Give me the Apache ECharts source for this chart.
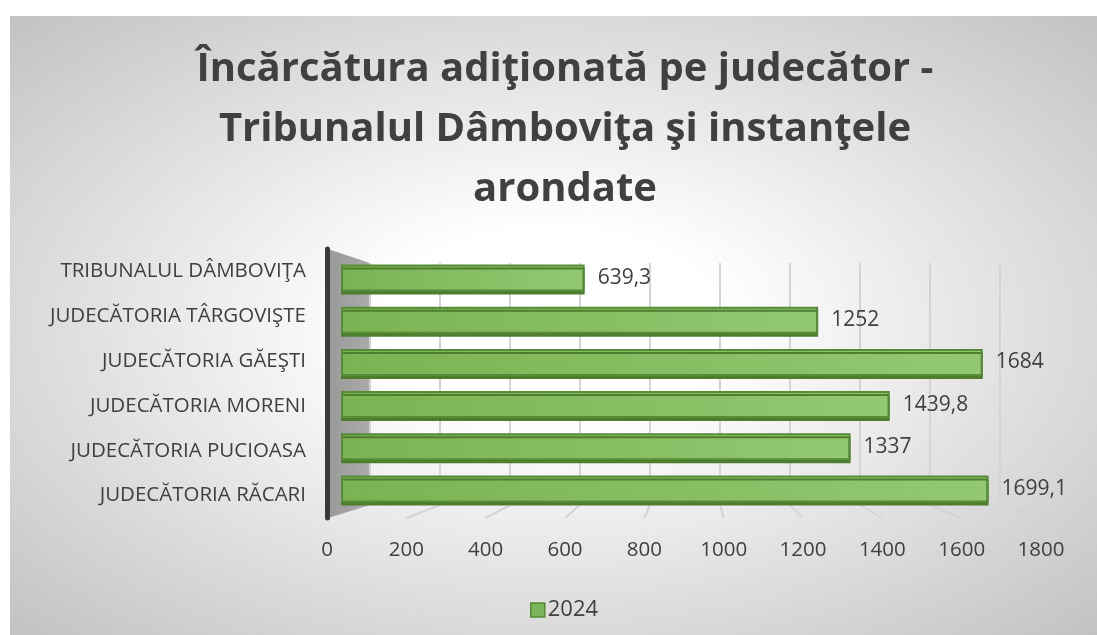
<!DOCTYPE html>
<html>
<head>
<meta charset="utf-8">
<script src="https://cdn.jsdelivr.net/npm/echarts@6/dist/echarts.min.js"></script>
<style>
  html, body { margin: 0; padding: 0; background: #fff; }
  .chart-bg {
    position: absolute; left: 10px; top: 16px; width: 1087px; height: 619px;
    background: radial-gradient(ellipse farthest-corner at 50% 50%, #ffffff 0%, #ffffff 22%, #c2c2c2 100%);
  }
  #barChart { position: absolute; left: 0; top: 0; width: 1097px; height: 635px; }
</style>
</head>
<body>
<div class="chart-bg"></div>
<div id="barChart"></div>
<script>
// date
const categories = [
  'TRIBUNALUL DÂMBOVIŢA',
  'JUDECĂTORIA TÂRGOVIŞTE',
  'JUDECĂTORIA GĂEŞTI',
  'JUDECĂTORIA MORENI',
  'JUDECĂTORIA PUCIOASA',
  'JUDECĂTORIA RĂCARI'
]
const values2024 = [639.3, 1252, 1684, 1439.8, 1337, 1699.1]
const seriesName = '2024'
const xMin = 0
const xMax = 1800
const xStep = 200

const textColor = '#404040'
const font = 'Open Sans'
const fmt = v => String(v).replace('.', ',')

// grid-uri: 0 = bare (fata), 1 = perete spate (linii), 2 = etichete / axa
const backBottom = 130
const frontBottom = 117

let myChart = echarts.init(document.getElementById('barChart'))

const option = {
  title: {
    text: 'Încărcătura adiţionată pe judecător -\nTribunalul Dâmboviţa şi instanţele\narondate',
    left: 560,
    top: 35,
    textAlign: 'center',
    textStyle: {
      fontFamily: font,
      fontWeight: 'bold',
      fontSize: 40,
      lineHeight: 60,
      color: textColor
    }
  },
  legend: {
    data: [seriesName],
    left: 525,
    top: 594,
    icon: 'rect',
    itemWidth: 14,
    itemHeight: 14,
    itemGap: 4,
    itemStyle: { color: '#7ab55a', borderColor: '#548a34', borderWidth: 1.5 },
    textStyle: { fontFamily: font, fontSize: 22, color: textColor, padding: [0, 0, 0, -2] }
  },
  grid: [
    { left: 341, right: 70, top: 257, bottom: 125 },
    { left: 370, right: 97, top: 263, bottom: backBottom },
    { left: 327, right: 56, top: 249, bottom: frontBottom }
  ],
  xAxis: [
    {
      gridIndex: 0, type: 'value', min: xMin, max: xMax, interval: xStep,
      axisLine: { show: false }, axisTick: { show: false },
      axisLabel: { show: false }, splitLine: { show: false }
    },
    {
      gridIndex: 1, type: 'value', min: xMin, max: xMax, interval: xStep,
      axisLine: { show: false }, axisTick: { show: false },
      axisLabel: { show: false },
      splitLine: { show: true, lineStyle: { color: '#d4d4d4', width: 2 } }
    },
    {
      gridIndex: 2, type: 'value', min: xMin, max: xMax, interval: xStep,
      axisLine: { show: false }, axisTick: { show: false },
      splitLine: { show: false },
      axisLabel: {
        margin: 22, fontFamily: font, fontSize: 20.5, color: textColor,
        formatter: v => String(v)
      }
    }
  ],
  yAxis: [
    {
      gridIndex: 0, type: 'category', data: categories, inverse: true,
      axisLine: { show: false }, axisTick: { show: false }, axisLabel: { show: false }
    },
    {
      gridIndex: 1, type: 'category', data: categories, inverse: true, show: false
    },
    {
      gridIndex: 2, type: 'category', data: categories, inverse: true,
      axisTick: { show: false },
      axisLine: { show: true, lineStyle: { color: '#3a3a3a', width: 5 } },
      axisLabel: { margin: 21, fontFamily: font, fontSize: 20.5, color: textColor }
    }
  ],
  series: [
    {
      name: seriesName,
      type: 'bar',
      xAxisIndex: 0,
      yAxisIndex: 0,
      barWidth: 27,
      data: values2024,
      itemStyle: {
        color: new echarts.graphic.LinearGradient(0, 0, 1, 0, [
          { offset: 0, color: '#7ab353' },
          { offset: 1, color: '#92c872' }
        ]),
        borderColor: '#568c37',
        borderWidth: 2,
        shadowColor: '#4e7d2e',
        shadowOffsetY: 3,
        shadowBlur: 0
      },
      label: {
        show: true,
        position: 'right',
        distance: 13,
        fontFamily: font,
        fontSize: 21,
        color: textColor,
        formatter: p => fmt(p.value)
      }
    }
  ]
}

myChart.setOption(option)

// perete lateral + linii de podea, din axe
const ticks = []
for (let v = xMin; v <= xMax; v += xStep) ticks.push(v)
const backY = 635 - backBottom
const frontY = 635 - frontBottom
const floorLines = ticks.slice(1).map(v => ({
  type: 'line',
  z: -1,
  shape: {
    x1: myChart.convertToPixel({ xAxisIndex: 1 }, v), y1: backY,
    x2: myChart.convertToPixel({ xAxisIndex: 2 }, v), y2: frontY
  },
  style: { stroke: '#d4d4d4', lineWidth: 2 }
}))
const wallX = myChart.convertToPixel({ xAxisIndex: 1 }, xMin)
myChart.setOption({
  graphic: [
    {
      type: 'polygon',
      z: -1,
      shape: { points: [[328, 249], [wallX, 263], [wallX, backY], [328, frontY]] },
      style: {
        fill: new echarts.graphic.LinearGradient(0, 0, 1, 0, [
          { offset: 0, color: '#9a9a9a' },
          { offset: 1, color: '#aaaaaa' }
        ])
      }
    }
  ].concat(floorLines)
})
</script>
</body>
</html>
